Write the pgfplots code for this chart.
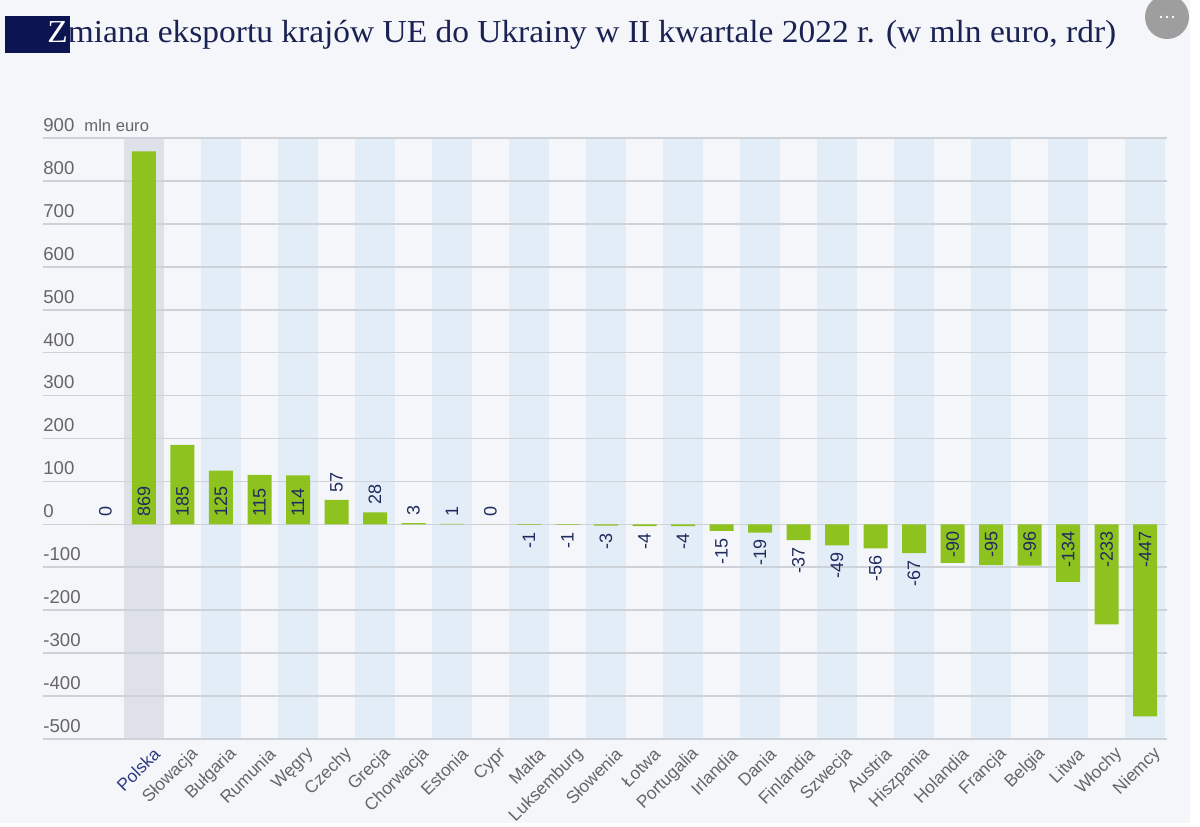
\documentclass[border=0pt]{standalone}
\usepackage{fontspec}
\setmainfont{Liberation Sans}
\newfontfamily\titlefont{Liberation Serif}
\usepackage{pgfplots}
\pgfplotsset{compat=1.18}
\usepackage{pgfplotstable}
\definecolor{bg}{HTML}{F4F6F9}
\definecolor{bandblue}{HTML}{E3EDF7}
\definecolor{bandgrey}{HTML}{DFE1E8}
\definecolor{gridc}{HTML}{CDD2D9}
\definecolor{barg}{HTML}{8DC21F}
\definecolor{labnavy}{HTML}{1F2B5E}
\definecolor{titlenavy}{HTML}{1A2254}
\definecolor{boxnavy}{HTML}{0C1552}
\definecolor{tickgrey}{HTML}{666666}
\definecolor{polskac}{HTML}{2E3A85}
\definecolor{dotsgrey}{HTML}{9E9E9E}
\pagecolor{bg}

\pgfplotstableread{
idx val
-1 0
0 869
1 185
2 125
3 115
4 114
5 57
6 28
7 3
8 1
9 0
10 -1
11 -1
12 -3
13 -4
14 -4
15 -15
16 -19
17 -37
18 -49
19 -56
20 -67
21 -90
22 -95
23 -96
24 -134
25 -233
26 -447
}\bars

\pgfplotstableread{
idx y t
-1 0 0
0 0 869
1 0 185
2 0 125
3 0 115
4 0 114
5 57 57
6 28 28
7 3 3
8 1 1
9 0 0
}\poslab

\pgfplotstableread{
idx y t
10 -1 -1
11 -1 -1
12 -3 -3
13 -4 -4
14 -4 -4
15 -15 -15
16 -19 -19
17 -37 -37
18 -49 -49
19 -56 -56
20 -67 -67
21 0 -90
22 0 -95
23 0 -96
24 0 -134
25 0 -233
26 0 -447
}\neglab

\begin{document}
\begin{tikzpicture}
\fill[white] (595pt,0) rectangle (600pt,413pt);
\fill[white] (0,0) rectangle (600pt,1.5pt);
% title
\fill[boxnavy] (2.5pt,386.5pt) rectangle (35pt,405pt);
\node[anchor=base west, inner sep=0pt, font=\titlefont\fontsize{16pt}{18pt}\selectfont, text=titlenavy] at (23.5pt,391.5pt)
  {\scalebox{1.045}[1]{\textcolor{white}{Z}miana eksportu krajów UE do Ukrainy w II kwartale 2022 r. (w mln euro, rdr)}};
% menu button
\begin{scope}
\clip (0,0) rectangle (600pt,413pt);
\fill[dotsgrey] (583.5pt,404.5pt) circle (11pt);
\fill[white] (580.5pt,404.5pt) circle (0.7pt);
\fill[white] (583.5pt,404.5pt) circle (0.7pt);
\fill[white] (586.5pt,404.5pt) circle (0.7pt);
\end{scope}

\begin{axis}[
  at={(21.5pt,43.5pt)}, anchor=south west,
  scale only axis, width=562pt, height=300.5pt,
  xmin=-2.623, xmax=26.57, ymin=-500, ymax=900,
  set layers,
  axis line style={draw=none},
  major tick length=0pt,
  ymajorgrids,
  grid style={gridc, line width=0.8pt},
  ytick={-500,-400,...,900},
  yticklabels={-500,-400,-300,-200,-100,0,100,200,300,400,500,600,700,800,{900\hspace{5pt}{\fontsize{8.3pt}{9pt}\selectfont mln euro}}},
  yticklabel style={anchor=south west, inner sep=0pt, yshift=3pt, text=tickgrey, font=\fontsize{9.3pt}{10pt}\selectfont},
  xtick={0,...,26},
  xticklabels={{\color{polskac}Polska},Słowacja,Bułgaria,Rumunia,Węgry,Czechy,Grecja,Chorwacja,Estonia,Cypr,Malta,Luksemburg,Słowenia,Łotwa,Portugalia,Irlandia,Dania,Finlandia,Szwecja,Austria,Hiszpania,Holandia,Francja,Belgia,Litwa,Włochy,Niemcy},
  xticklabel style={font=\fontsize{8.7pt}{10pt}\selectfont, text=tickgrey, inner sep=0pt, xshift=6.5pt, yshift=-6pt, rotate=45, anchor=east},
]
\begin{pgfonlayer}{axis background}
\fill[bandgrey] (axis cs:-0.52,-500) rectangle (axis cs:0.52,900);
\pgfplotsinvokeforeach{2,4,...,26}{
  \fill[bandblue] (axis cs:#1-0.52,-500) rectangle (axis cs:#1+0.52,900);
}
\end{pgfonlayer}

\addplot[ybar, bar width=12pt, bar shift=0pt, fill=barg, draw=none] table[x=idx,y=val]{\bars};

\addplot[draw=none, nodes near coords, point meta=explicit symbolic,
  nodes near coords style={rotate=90, anchor=west, inner sep=3.5pt, text=labnavy, font=\fontsize{9pt}{10pt}\selectfont}]
  table[x=idx, y=y, meta=t]{\poslab};
\addplot[draw=none, nodes near coords, point meta=explicit symbolic,
  nodes near coords style={rotate=90, anchor=east, inner sep=3.5pt, text=labnavy, font=\fontsize{9pt}{10pt}\selectfont}]
  table[x=idx, y=y, meta=t]{\neglab};
\end{axis}
\pgfresetboundingbox
\path[use as bounding box] (0,0) rectangle (600pt,413pt);
\end{tikzpicture}
\end{document}
